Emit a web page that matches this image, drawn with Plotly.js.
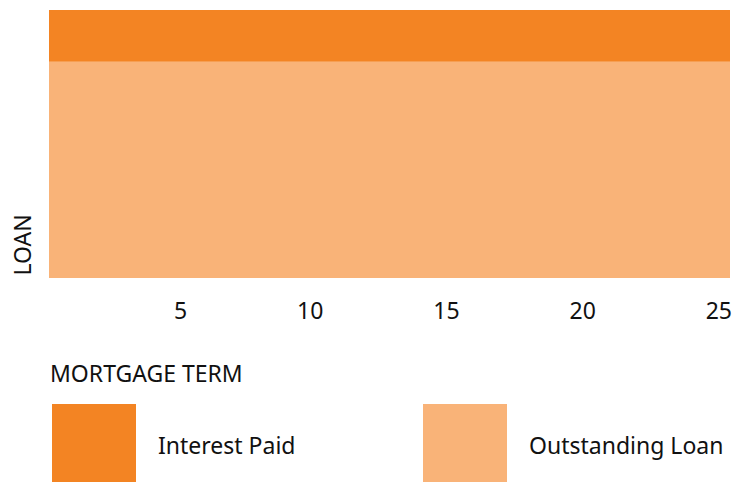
<!DOCTYPE html>
<html><head><meta charset="utf-8">
<script src="https://cdn.plot.ly/plotly-3.0.1.min.js"></script>
<style>html,body{margin:0;padding:0;background:#fff}</style>
</head><body>
<div id="chart" style="width:747px;height:482px"></div>
<script>
const years = [0,1,2,3,4,5,6,7,8,9,10,11,12,13,14,15,16,17,18,19,20,21,22,23,24,25];
const outstandingLoan = [100,100,100,100,100,100,100,100,100,100,100,100,100,100,100,100,100,100,100,100,100,100,100,100,100,100];
const interestPaid = [24,24,24,24,24,24,24,24,24,24,24,24,24,24,24,24,24,24,24,24,24,24,24,24,24,24];
const tickValues = [5,10,15,20,25];
const tickLabels = ["5","10","15","20","25"];
const seriesNames = ["Outstanding Loan","Interest Paid"];
const xTitle = "MORTGAGE TERM";
const yTitle = "LOAN";

const darkC = "#F38423";
const lightC = "#F9B378";
const FONT = "Noto Sans, sans-serif";
const FS = 23;

const traces = [
  {x: years, y: outstandingLoan, name: seriesNames[0], type:"scatter", mode:"lines",
   stackgroup:"one", line:{width:0, color:lightC}, fillcolor:lightC, showlegend:false, hoverinfo:"skip"},
  {x: years, y: interestPaid, name: seriesNames[1], type:"scatter", mode:"lines",
   stackgroup:"one", line:{width:0, color:darkC}, fillcolor:darkC, showlegend:false, hoverinfo:"skip"}
];

const layout = {
  width:747, height:482,
  margin:{l:49, r:17, t:10, b:204},
  paper_bgcolor:"#fff", plot_bgcolor:"#fff",
  font:{family:FONT, color:"#111", size:FS},
  xaxis:{range:[0,25], tickvals:tickValues, ticktext:tickLabels, showgrid:false, zeroline:false,
         showline:false, ticks:"", ticklabelstandoff:17, ticklabelshift:2,
         ticklabelposition:"outside left", tickfont:{size:FS, family:FONT, color:"#111"}},
  yaxis:{range:[0,124], showticklabels:false, showgrid:false, zeroline:false, showline:false, ticks:""},
  shapes:[
    {type:"rect", xref:"paper", yref:"paper", x0:(52-49)/681, x1:(136-49)/681, y0:-(482-278)/268, y1:-(404-278)/268,
     fillcolor:darkC, line:{width:0}},
    {type:"rect", xref:"paper", yref:"paper", x0:(423-49)/681, x1:(507-49)/681, y0:-(482-278)/268, y1:-(404-278)/268,
     fillcolor:lightC, line:{width:0}}
  ],
  annotations:[
    {text:xTitle, xref:"paper", yref:"paper", x:(48-49)/681, y:-(373-278)/268, xanchor:"left", yanchor:"middle",
     showarrow:false, font:{size:FS, family:FONT, color:"#111"}},
    {text:yTitle, xref:"paper", yref:"paper", x:(21-49)/681, y:0, xanchor:"center", yanchor:"bottom",
     textangle:-90, showarrow:false, font:{size:FS, family:FONT, color:"#111"}},
    {text:seriesNames[1], xref:"paper", yref:"paper", x:(156-49)/681, y:-(445-278)/268, xanchor:"left", yanchor:"middle",
     showarrow:false, font:{size:FS, family:FONT, color:"#111"}},
    {text:seriesNames[0], xref:"paper", yref:"paper", x:(527-49)/681, y:-(445-278)/268, xanchor:"left", yanchor:"middle",
     showarrow:false, font:{size:FS, family:FONT, color:"#111"}}
  ]
};
Plotly.newPlot("chart", traces, layout, {displayModeBar:false, staticPlot:true});
</script>
</body></html>
